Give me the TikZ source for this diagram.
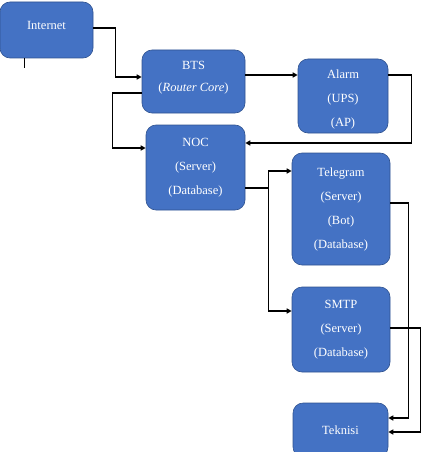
\documentclass[tikz,border=0pt]{standalone}
\usepackage{fontspec}
\setmainfont{Liberation Serif}
\usepackage{tikz}
\usetikzlibrary{arrows.meta}

\definecolor{boxblue}{HTML}{4472C4}
\definecolor{boxedge}{HTML}{2F528F}

\begin{document}
\begin{tikzpicture}[
  x=1pt, y=-1pt,
  >={Triangle[length=5pt, width=5pt]},
  every node/.style={font=\fontsize{12.5pt}{24pt}\selectfont}
]
\tikzset{
  box/.style ={draw=boxedge, line width=0.6pt, fill=boxblue,
               rounded corners=10pt, text=white, align=center,
               inner sep=0pt},
  arr/.style ={->, line width=1.3pt}
}
\useasboundingbox (0,0) rectangle (422,452);
\clip (0,0) rectangle (422,452);

%% ----- left column -----
\node[box, minimum width=93pt, minimum height=56pt, text depth=10pt]
  (inet) at (46.5,30) {Internet};
\node[box, minimum width=103pt, minimum height=63pt, text depth=11pt,
      font=\fontsize{12.5pt}{22pt}\selectfont] (bts) at (193.5,81.5)
  {BTS\\(\textit{Router Core})};
\node[box, minimum width=99pt, minimum height=85pt] (noc) at (195.5,167.5)
  {NOC\\(Server)\\(Database)};

%% ----- right column -----
\node[box, minimum width=90pt, minimum height=74pt, text height=64.5pt]
  (alarm) at (343,96) {Alarm\\(UPS)\\(AP)};
\node[box, minimum width=98pt, minimum height=112pt] (tele) at (341,209)
  {Telegram\\(Server)\\(Bot)\\(Database)};
\node[box, minimum width=98pt, minimum height=85pt] (smtp) at (341,329.5)
  {SMTP\\(Server)\\(Database)};
\node[box, minimum width=95pt, minimum height=54pt] (tek) at (340.5,430)
  {Teknisi};

\coordinate (tick) at ([xshift=-22.5pt]inet.south);
\draw[line width=0.5pt] (tick) -- ++(0,10);

%% ----- connectors -----
\draw[arr] ([yshift=2pt]inet.east) -- ++(22,0) |- ([yshift=4.5pt]bts.west);
\draw[arr] ([yshift=-11.5pt]bts.west) -- ++(-29,0) |- ([yshift=19.5pt]noc.west);
\draw[arr] ([yshift=6.5pt]bts.east) -- ([yshift=6.5pt]bts.east -| alarm.west);
\draw[arr] ([yshift=21pt]alarm.east) -- ++(23,0) |- ([yshift=24.5pt]noc.east);

\draw[arr] ([yshift=-20.5pt]noc.east) -- ++(23,0) coordinate (split)
  |- ([yshift=38pt]tele.west);
\draw[arr] (split) |- ([yshift=18.5pt]smtp.west);

\draw[arr] ([yshift=6pt]tele.east) -- ++(18,0) |- ([yshift=12pt]tek.east);
\draw[arr] ([yshift=1.5pt]smtp.east) -- ++(30,0) |- ([yshift=-2pt]tek.east);

\end{tikzpicture}
\end{document}
